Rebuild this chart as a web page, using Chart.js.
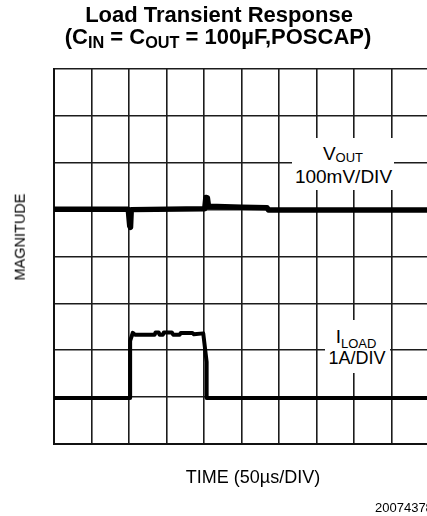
<!DOCTYPE html>
<html>
<head>
<meta charset="utf-8">
<script src="https://cdn.jsdelivr.net/npm/chart.js@4/dist/chart.umd.min.js"></script>
<style>
  html, body { margin: 0; padding: 0; background: #fff; overflow: hidden; width: 427px; height: 516px; }
  body { position: relative; font-family: "Liberation Sans", Arial, Helvetica, sans-serif; color: #000; }
  #wrap { position: absolute; left: 0; top: 0; width: 440px; height: 516px; }
  .txt { position: absolute; white-space: nowrap; line-height: 1; }
  .c { transform: translateX(-50%); }
  .title { font-weight: bold; font-size: 22px; }
  .title sub { font-size: 0.74em; vertical-align: -0.26em; }
  .lbl { font-size: 19px; }
  .lbl sub { font-size: 13px; line-height: 1; }
  .box { position: absolute; background: #fff; }
</style>
</head>
<body>
<div id="wrap"><canvas id="scope" width="440" height="516"></canvas></div>

<div class="txt c title" style="left:219px; top:4px;">Load Transient Response</div>
<div class="txt c title" style="left:218px; top:26px;">(C<sub>IN</sub> = C<sub>OUT</sub> = 100µF,POSCAP)</div>

<!-- label boxes knock out the grid -->
<div class="box" style="left:292px; top:138px; width:102px; height:52px;"></div>
<div class="box" style="left:325px; top:320px; width:65px; height:53px;"></div>

<div class="txt c lbl" style="left:343px; top:144px;">V<sub style="vertical-align:-2px">OUT</sub></div>
<div class="txt c lbl" style="left:343.5px; top:167px;">100mV/DIV</div>
<div class="txt c lbl" style="left:356px; top:327px;">I<sub style="vertical-align:-5px">LOAD</sub></div>
<div class="txt c lbl" style="left:357px; top:349px; font-size:18px;">1A/DIV</div>

<div class="txt" style="left:20px; top:237px; font-size:14.5px; transform:translate(-50%,-50%) rotate(-90deg);">MAGNITUDE</div>
<div class="txt c" style="left:253px; top:468px; font-size:18px;">TIME (50µs/DIV)</div>
<div class="txt" style="left:375px; top:501px; font-size:13px;">20074378</div>

<script>
// scope screen: 10 x 8 divisions
const X_DIVS = 10;
const Y_DIVS = 8;

// V_OUT trace (time in div, level in div)
const vTime = [0, 1.98, 2.02, 2.04, 2.06, 4.02, 4.05, 4.09, 4.12, 5.0, 5.68, 5.72, 10];
const vOut  = [5.01, 5.01, 4.65, 4.62, 5.0, 5.02, 5.26, 5.25, 5.07, 5.05, 5.04, 4.99, 4.99];

// I_LOAD trace
const iTime = [0, 2.03, 2.03, 2.10, 2.16, 2.68, 2.71, 2.79, 2.82, 2.90, 2.93, 3.14, 3.18, 3.35, 3.38, 3.69, 3.73, 3.98, 4.07, 4.07, 10];
const iLoad = [0.98, 0.98, 2.20, 2.37, 2.33, 2.33, 2.38, 2.38, 2.33, 2.33, 2.38, 2.38, 2.33, 2.33, 2.37, 2.37, 2.34, 2.36, 1.75, 0.98, 0.98];

function toPoints(xs, ys) {
  return xs.map((x, i) => ({ x: x, y: ys[i] }));
}

const gridOpts = { color: "#1c1c1c", lineWidth: 1.6, drawTicks: false };

new Chart(document.getElementById("scope"), {
  type: "line",
  data: {
    datasets: [
      { label: "VOUT", data: toPoints(vTime, vOut), borderColor: "#000", borderWidth: 5.5, pointRadius: 0, tension: 0, borderJoinStyle: "round", borderCapStyle: "round" },
      { label: "ILOAD", data: toPoints(iTime, iLoad), borderColor: "#000", borderWidth: 4, pointRadius: 0, tension: 0, borderJoinStyle: "round", borderCapStyle: "round" },
    ],
  },
  options: {
    responsive: false,
    animation: false,
    layout: { padding: { left: 54, right: 11, top: 69, bottom: 72 } },
    plugins: { legend: { display: false }, tooltip: { enabled: false } },
    scales: {
      x: {
        type: "linear", min: 0, max: X_DIVS,
        ticks: { display: false, stepSize: 1 },
        grid: gridOpts,
        border: { color: "#111", width: 2 },
      },
      y: {
        type: "linear", min: 0, max: Y_DIVS,
        ticks: { display: false, stepSize: 1 },
        grid: gridOpts,
        border: { color: "#111", width: 2 },
      },
    },
  },
});
</script>
</body>
</html>
